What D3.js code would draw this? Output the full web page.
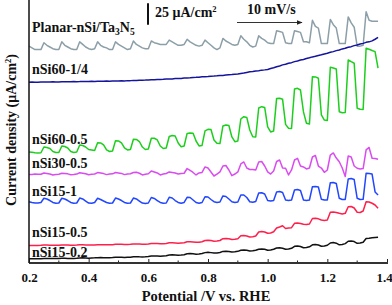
<!DOCTYPE html>
<html>
<head>
<meta charset="utf-8">
<script src="https://cdn.jsdelivr.net/npm/d3@7"></script>
<style>
  body { margin: 0; background: #fff; }
  svg text { font-family: "Liberation Serif", "Times New Roman", serif; font-weight: bold; fill: #111; }
</style>
</head>
<body>
<div id="chart"></div>
<script>
// chopped-light LSV, 10 mV/s, 1 s sampling (one point per 10 mV)
var potentials = [
  0.20, 0.21, 0.22, 0.23, 0.24, 0.25, 0.26, 0.27, 0.28, 0.29,
  0.30, 0.31, 0.32, 0.33, 0.34, 0.35, 0.36, 0.37, 0.38, 0.39,
  0.40, 0.41, 0.42, 0.43, 0.44, 0.45, 0.46, 0.47, 0.48, 0.49,
  0.50, 0.51, 0.52, 0.53, 0.54, 0.55, 0.56, 0.57, 0.58, 0.59,
  0.60, 0.61, 0.62, 0.63, 0.64, 0.65, 0.66, 0.67, 0.68, 0.69,
  0.70, 0.71, 0.72, 0.73, 0.74, 0.75, 0.76, 0.77, 0.78, 0.79,
  0.80, 0.81, 0.82, 0.83, 0.84, 0.85, 0.86, 0.87, 0.88, 0.89,
  0.90, 0.91, 0.92, 0.93, 0.94, 0.95, 0.96, 0.97, 0.98, 0.99,
  1.00, 1.01, 1.02, 1.03, 1.04, 1.05, 1.06, 1.07, 1.08, 1.09,
  1.10, 1.11, 1.12, 1.13, 1.14, 1.15, 1.16, 1.17, 1.18, 1.19,
  1.20, 1.21, 1.22, 1.23, 1.24, 1.25, 1.26, 1.27, 1.28, 1.29,
  1.30, 1.31, 1.32, 1.33, 1.34, 1.35, 1.36, 1.37
];

// current density (uA/cm2), curves offset vertically as in the figure
var planar = [
  251, 249, 247, 247, 247,
  255, 252, 250, 248, 247, 247,
  256, 252, 250, 248, 247, 247,
  256, 253, 250, 248, 247, 248,
  256, 252, 250, 249, 247, 247,
  256, 253, 251, 249, 247, 248,
  257, 253, 251, 249, 248, 248,
  257, 255, 254, 253, 253, 253,
  258, 256, 254, 252, 252, 253,
  259, 256, 254, 252, 251, 252,
  258, 255, 252, 249, 247, 249,
  260, 257, 255, 253, 252, 253,
  263, 259, 256, 252, 250, 251,
  263, 260, 258, 255, 254, 254,
  269, 268, 267, 255, 254, 254,
  269, 268, 267, 256, 256, 255,
  281, 274, 272, 254, 254, 254,
  282, 276, 272, 254, 254, 254,
  285, 278, 273, 251, 251, 252,
  291, 281, 280, 280, 280
];

var nSi60q = [
  209.0, 209.2, 208.9, 209.1, 209.3, 209.4, 209.2, 209.3, 209.5, 209.3,
  209.4, 209.6, 209.5, 209.7, 209.5, 209.8, 209.7, 209.8, 210.0, 209.9,
  209.9, 210.1, 210.0, 210.2, 210.3, 210.1, 210.4, 210.3, 210.5, 210.4,
  210.5, 210.7, 210.6, 210.9, 210.9, 211.1, 211.0, 211.3, 211.4, 211.5,
  211.7, 211.9, 211.9, 212.2, 212.3, 212.4, 212.7, 212.8, 212.9, 213.3,
  213.4, 213.5, 213.9, 214.0, 214.2, 214.6, 214.7, 214.9, 215.3, 215.4,
  215.7, 216.1, 216.2, 216.5, 216.9, 217.0, 217.4, 217.8, 217.9, 218.3,
  218.6, 219.3, 219.7, 220.4, 221.1, 221.5, 222.2, 222.5, 223.1, 223.4,
  223.9, 225.0, 225.9, 227.1, 228.0, 229.2, 229.9, 231.1, 231.8, 233.0,
  233.8, 234.8, 235.5, 236.7, 237.4, 238.5, 239.2, 240.2, 240.9, 241.9,
  242.7, 243.8, 244.6, 245.8, 246.6, 247.8, 248.5, 249.7, 250.4, 251.6,
  252.4, 253.5, 254.2, 255.4, 256.0, 257.1, 259.0, 261.1
];

var nSi60h = [
  128.0, 127.5, 127.0, 126.8, 127.0,
  133.7, 133.2, 132.0, 128.5, 127.3, 127.3,
  134.9, 134.3, 132.6, 128.5, 127.3, 127.9,
  136.1, 135.5, 133.7, 130.8, 130.3, 129.7,
  138.7, 138.4, 136.1, 130.3, 128.5, 129.1,
  141.1, 140.7, 138.4, 132.6, 130.3, 130.8,
  142.7, 142.5, 140.1, 133.7, 130.8, 131.4,
  143.9, 143.9, 141.9, 134.9, 132.0, 132.6,
  146.0, 147.1, 146.5, 138.4, 134.1, 134.9,
  149.5, 150.0, 149.7, 140.7, 134.9, 135.5,
  152.4, 154.3, 154.1, 141.9, 138.0, 137.7,
  158.2, 159.3, 158.7, 145.4, 139.9, 140.7,
  166.3, 169.0, 168.1, 153.5, 145.7, 145.4,
  179.1, 180.6, 179.7, 157.0, 151.2, 152.4,
  190.2, 190.4, 189.2, 160.0, 155.5, 155.3,
  201.2, 202.0, 200.0, 174.5, 161.3, 160.5,
  215.5, 215.2, 213.6, 171.0, 165.1, 164.6,
  226.4, 225.6, 224.5, 174.8, 173.6, 173.9,
  234.9, 232.9, 231.1, 178.8, 177.6, 177.4,
  248.5, 247.4, 246.0, 244.6, 225.3
];

var nSi30h = [
  101.8, 101.8, 102.3, 102.0, 102.0,
  103.5, 102.9, 102.3, 101.2, 101.8, 102.0,
  103.2, 103.0, 102.5, 101.5, 101.8, 102.2,
  103.8, 103.2, 102.6, 101.4, 102.0, 102.3,
  104.0, 103.5, 102.8, 101.6, 102.2, 102.5,
  104.1, 103.6, 103.0, 101.6, 102.3, 102.6,
  104.1, 104.3, 103.2, 101.2, 102.0, 102.6,
  105.8, 104.7, 103.5, 101.2, 102.3, 102.9,
  104.7, 104.1, 103.5, 102.3, 102.9, 103.2,
  108.7, 106.4, 104.1, 101.2, 103.5, 104.1,
  110.5, 109.3, 104.7, 100.0, 102.3, 104.7,
  111.6, 112.2, 107.0, 100.4, 102.3, 104.7,
  114.0, 116.3, 109.3, 107.6, 107.6, 107.0,
  116.3, 116.9, 111.6, 104.7, 102.3, 105.8,
  116.9, 118.6, 109.3, 109.0, 101.2, 107.0,
  118.6, 120.6, 111.6, 110.5, 108.2, 109.3,
  122.1, 123.9, 111.6, 109.3, 104.3, 107.0,
  124.4, 126.8, 120.9, 116.6, 109.3, 99.4,
  123.3, 122.1, 111.6, 109.0, 108.2, 108.7,
  130.3, 133.2, 120.6, 120.4, 119.4
];

var nSi15one = [
  70.1, 69.2, 68.6, 68.6, 69.2,
  74.1, 73.3, 71.5, 69.2, 68.3, 68.6,
  74.1, 73.3, 71.5, 69.2, 68.3, 68.6,
  74.4, 73.3, 70.9, 68.6, 68.3, 69.2,
  74.1, 72.7, 70.9, 69.2, 68.3, 68.6,
  74.4, 73.3, 71.5, 69.2, 68.3, 68.6,
  74.4, 73.3, 70.9, 68.6, 68.0, 68.6,
  75.0, 73.9, 71.5, 69.2, 68.3, 68.6,
  75.2, 74.4, 71.5, 69.2, 68.3, 69.2,
  75.2, 75.0, 72.1, 69.2, 68.3, 69.2,
  75.9, 75.6, 72.7, 70.1, 69.2, 69.8,
  76.8, 76.2, 73.3, 70.1, 69.2, 69.8,
  77.9, 77.9, 75.0, 70.1, 69.4, 70.4,
  80.2, 80.5, 79.1, 71.5, 70.9, 71.5,
  81.4, 81.9, 80.8, 72.1, 71.5, 72.1,
  83.7, 84.3, 83.2, 72.1, 71.5, 72.1,
  87.6, 87.8, 87.2, 72.9, 72.1, 72.1,
  92.2, 92.5, 91.3, 74.1, 72.7, 72.7,
  96.5, 97.1, 95.9, 74.1, 72.7, 72.9,
  103.2, 102.9, 102.3, 81.4, 77.9
];

var nSi15h = [
  19.2, 19.2, 19.3, 19.3, 19.4,
  19.8, 19.7, 19.5, 19.4, 19.4, 19.5,
  19.9, 19.8, 19.7, 19.5, 19.5, 19.7,
  20.0, 20.0, 19.9, 19.8, 19.8, 19.9,
  20.2, 20.2, 20.1, 20.0, 20.0, 20.1,
  20.6, 20.6, 20.5, 20.4, 20.4, 20.5,
  20.9, 20.9, 20.8, 20.7, 20.7, 20.9,
  21.5, 21.5, 21.4, 21.2, 21.3, 21.5,
  22.3, 22.3, 22.1, 21.9, 22.1, 22.3,
  23.5, 23.5, 23.3, 22.9, 23.1, 23.5,
  25.0, 25.2, 24.9, 24.2, 24.4, 25.0,
  27.1, 27.3, 27.0, 26.2, 26.4, 27.1,
  30.5, 30.8, 30.2, 29.1, 29.3, 30.2,
  34.9, 35.5, 34.9, 33.4, 33.7, 35.2,
  39.5, 40.7, 42.2, 39.0, 39.5, 39.9,
  45.0, 45.4, 44.8, 43.8, 43.6, 44.2,
  50.6, 50.8, 50.2, 48.8, 48.3, 48.8,
  57.8, 58.2, 57.6, 56.6, 55.8, 56.6,
  64.3, 64.5, 62.8, 57.8, 57.6, 59.3,
  70.1, 69.8, 68.3, 66.3, 62.5
];

var nSi15f = [
  3.7, 3.7, 3.8, 3.8, 3.8,
  4.1, 4.1, 4.0, 4.0, 4.0, 4.1,
  4.3, 4.3, 4.2, 4.2, 4.2, 4.3,
  4.7, 4.8, 4.7, 4.5, 4.7, 4.8,
  5.0, 5.1, 5.0, 4.9, 5.0, 5.1,
  5.5, 5.6, 5.5, 5.3, 5.5, 5.6,
  6.0, 6.2, 6.0, 5.9, 6.0, 6.3,
  7.0, 7.1, 7.0, 6.7, 7.0, 7.2,
  8.1, 8.3, 8.1, 7.8, 8.0, 8.4,
  9.5, 9.8, 9.5, 9.1, 9.3, 9.8,
  10.9, 11.2, 10.9, 10.4, 10.6, 11.0,
  12.3, 12.6, 12.3, 11.6, 11.9, 12.4,
  13.6, 14.0, 13.6, 12.8, 13.0, 13.7,
  14.9, 15.1, 14.8, 13.7, 14.0, 14.8,
  16.3, 16.5, 16.0, 14.8, 15.1, 15.9,
  18.3, 18.6, 18.0, 16.5, 16.9, 17.7,
  20.0, 20.4, 19.8, 18.3, 18.6, 19.5,
  22.1, 22.6, 21.9, 20.0, 20.4, 21.4,
  24.1, 24.4, 23.8, 21.7, 22.1, 22.9,
  27.3, 27.6, 28.1, 28.5, 28.7
];

var seriesNames = ["Planar-nSi/Ta3N5", "nSi60-1/4", "nSi60-0.5", "nSi30-0.5", "nSi15-1", "nSi15-0.5", "nSi15-0.2"];
var xTicks = [0.2, 0.4, 0.6, 0.8, 1.0, 1.2, 1.4];
var scaleBarValue = 25;

var width = 392, height = 305;

var x = d3.scaleLinear().domain([0.2, 1.4]).range([29, 387]);
var y = d3.scaleLinear().domain([0, 300]).range([262, 4]);

var svg = d3.select("#chart").append("svg")
    .attr("width", width)
    .attr("height", height);

var series = [
  {name: seriesNames[0], values: planar,   color: "#8c9fa8", label: 267.5},
  {name: seriesNames[1], values: nSi60q,   color: "#14149e", label: 219},
  {name: seriesNames[2], values: nSi60h,   color: "#1ccf1c", label: 137},
  {name: seriesNames[3], values: nSi30h,   color: "#d94cf0", label: 109.5},
  {name: seriesNames[4], values: nSi15one, color: "#2146ff", label: 77},
  {name: seriesNames[5], values: nSi15h,   color: "#ff1f4b", label: 28.5},
  {name: seriesNames[6], values: nSi15f,   color: "#111111", label: 5.5}
];

var line = d3.line()
    .x(function(d, i) { return x(potentials[i]); })
    .y(function(d) { return y(d); });

svg.append("g")
    .attr("class", "curves")
  .selectAll("path")
    .data(series)
  .enter().append("path")
    .attr("fill", "none")
    .attr("stroke", function(d) { return d.color; })
    .attr("stroke-width", 1.5)
    .attr("stroke-linejoin", "round")
    .attr("d", function(d) { return line(d.values); });

// series labels
var labels = svg.append("g")
    .attr("font-size", 14)
  .selectAll("text")
    .data(series)
  .enter().append("text")
    .attr("x", 32)
    .attr("y", function(d) { return y(d.label); });

labels.each(function(d) {
  var t = d3.select(this);
  if (d.name.indexOf("Ta3N5") > -1) {
    t.append("tspan").text("Planar-nSi/Ta");
    t.append("tspan").attr("font-size", 9.5).attr("dy", 3).text("3");
    t.append("tspan").attr("dy", -3).text("N");
    t.append("tspan").attr("font-size", 9.5).attr("dy", 3).text("5");
  } else {
    t.text(d.name);
  }
});

// x axis, ticks pointing inward
var xAxis = d3.axisBottom(x)
    .tickValues(xTicks)
    .tickSize(-4)
    .tickPadding(10)
    .tickFormat(d3.format(".1f"));

var gx = svg.append("g")
    .attr("transform", "translate(0,263)")
    .call(xAxis);

gx.select(".domain").remove();
gx.selectAll(".tick line").attr("stroke", "#222").attr("stroke-width", 1);
gx.selectAll(".tick text")
    .attr("font-size", 13)
    .attr("font-family", "Liberation Serif, serif")
    .attr("font-weight", "bold")
    .attr("fill", "#111")
    .attr("dx", function(d) { return d === 1.4 ? -3 : 0; });

gx.selectAll(".minor")
    .data([0.3, 0.5, 0.7, 0.9, 1.1, 1.3])
  .enter().append("line")
    .attr("class", "minor")
    .attr("x1", function(d) { return x(d); })
    .attr("x2", function(d) { return x(d); })
    .attr("y1", 0)
    .attr("y2", -2.5)
    .attr("stroke", "#222");

svg.append("line")
    .attr("x1", 29).attr("x2", 388)
    .attr("y1", 263).attr("y2", 263)
    .attr("stroke", "#333")
    .attr("stroke-width", 2);

svg.append("line")
    .attr("x1", 29).attr("x2", 29)
    .attr("y1", 0).attr("y2", 263)
    .attr("stroke", "#111")
    .attr("stroke-width", 1.5);

// axis titles
svg.append("text")
    .attr("x", 206)
    .attr("y", 301)
    .attr("text-anchor", "middle")
    .attr("font-size", 14.5)
    .text("Potential /V vs. RHE");

var yt = svg.append("text")
    .attr("transform", "translate(16,130) rotate(-90)")
    .attr("text-anchor", "middle")
    .attr("font-size", 14);
yt.append("tspan").text("Current density (μA/cm");
yt.append("tspan").attr("font-size", 8.5).attr("dy", -5).text("2");
yt.append("tspan").attr("dy", 5).text(")");

// scale bar
svg.append("line")
    .attr("x1", 148).attr("x2", 148)
    .attr("y1", y(276)).attr("y2", y(276 + scaleBarValue))
    .attr("stroke", "#111")
    .attr("stroke-width", 2);

var sb = svg.append("text")
    .attr("x", 155)
    .attr("y", 17)
    .attr("font-size", 14);
sb.append("tspan").text(scaleBarValue + " μA/cm");
sb.append("tspan").attr("font-size", 8.5).attr("dy", -5).text("2");

// scan direction arrow
svg.append("defs").append("marker")
    .attr("id", "head")
    .attr("viewBox", "0 0 10 10")
    .attr("refX", 9).attr("refY", 5)
    .attr("markerWidth", 6).attr("markerHeight", 6)
    .attr("orient", "auto")
  .append("path")
    .attr("d", "M0,1L10,5L0,9Z")
    .attr("fill", "#222");

svg.append("line")
    .attr("x1", 237).attr("x2", 302)
    .attr("y1", 22.5).attr("y2", 22.5)
    .attr("stroke", "#333")
    .attr("stroke-width", 1)
    .attr("marker-end", "url(#head)");

svg.append("text")
    .attr("x", 247)
    .attr("y", 14)
    .attr("font-size", 14)
    .text("10 mV/s");
</script>
</body>
</html>
